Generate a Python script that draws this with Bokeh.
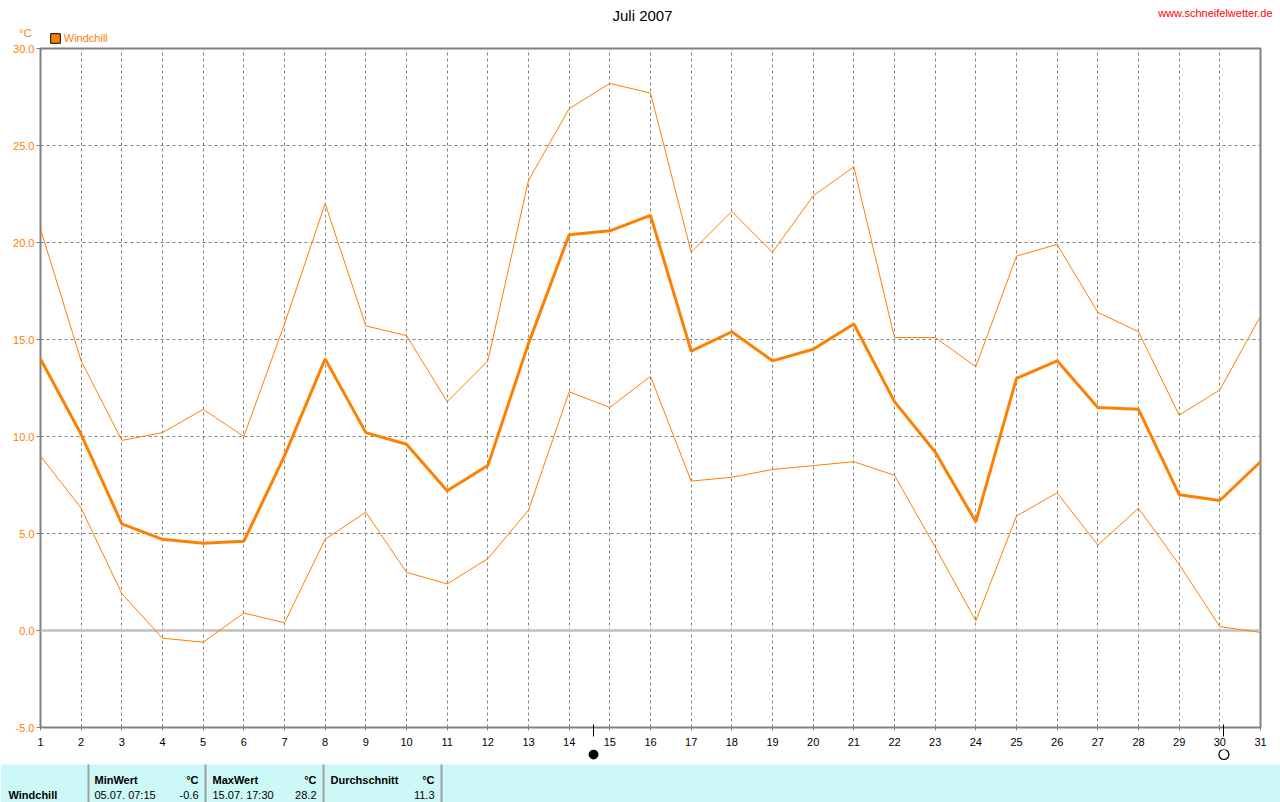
from bokeh.plotting import figure
from bokeh.layouts import column
from bokeh.models import (FixedTicker, PrintfTickFormatter, Span, BoxAnnotation,
                          Legend, LegendItem, Range1d)
from bokeh.core.properties import value
from bokeh.embed import file_html
from bokeh.resources import INLINE

# ---------------- data ----------------
days = list(range(1, 32))
wc_max = [20.7, 13.9, 9.8, 10.2, 11.4, 10.0, 15.8, 22.0, 15.7, 15.2, 11.8,
          13.9, 23.2, 26.9, 28.2, 27.7, 19.5, 21.6, 19.5, 22.4, 23.9,
          15.1, 15.1, 13.6, 19.3, 19.9, 16.4, 15.4, 11.1, 12.4, 16.2]
wc_avg = [14.0, 10.1, 5.5, 4.7, 4.5, 4.6, 9.0, 14.0, 10.2, 9.6, 7.2,
          8.5, 14.8, 20.4, 20.6, 21.4, 14.4, 15.4, 13.9, 14.5, 15.8,
          11.8, 9.2, 5.6, 13.0, 13.9, 11.5, 11.4, 7.0, 6.7, 8.7]
wc_min = [9.0, 6.3, 1.9, -0.4, -0.6, 0.9, 0.4, 4.7, 6.1, 3.0, 2.4,
          3.7, 6.2, 12.3, 11.5, 13.1, 7.7, 7.9, 8.3, 8.5, 8.7,
          8.0, 4.3, 0.5, 5.9, 7.1, 4.4, 6.3, 3.4, 0.2, -0.1]
y_ticks = [-5, 0, 5, 10, 15, 20, 25, 30]
new_moon = [14.6]
full_moon = [30.1]

title_text = "Juli 2007"
site_text = "www.schneifelwetter.de"
series_name = "Windchill"
unit_text = "°C"
stat_heads = ["MinWert", "MaxWert", "Durchschnitt"]
stat_when = ["05.07.  07:15", "15.07.  17:30", ""]
stat_vals = ["-0.6", "28.2", "11.3"]

# ---------------- style / layout ----------------
ORANGE = "#ff8000"
GRAY = "#808080"
FONT = "Liberation Sans"
W = 1280
TOP_H = 44          # strip with title / legend   (page y 0 .. 44)
MAIN_H = 705        # chart                       (page y 44 .. 749)
TAB_H = 53          # moon symbols + table        (page y 749 .. 802)
FL, FR = 40, 1260   # frame left / right, page px
FT, FB = 48, 727    # frame top / bottom, page px

# ---------------- top strip ----------------
top = figure(width=W, height=TOP_H, output_backend="svg", toolbar_location=None,
             x_range=Range1d(0, W), y_range=Range1d(TOP_H, 0),
             x_axis_type=None, y_axis_type=None, min_border=0,
             frame_align=False,
             outline_line_color=None, background_fill_color="white",
             border_fill_color="white")
top.grid.visible = False
top.text(x=[642], y=[15], text=[title_text], text_align="center",
         text_baseline="middle", text_font=value(FONT),
         text_font_size="15px", text_color="black")
top.text(x=[1272], y=[12.5], text=[site_text], text_align="right",
         text_baseline="middle", text_font=value(FONT),
         text_font_size="11px", text_color="#ff0000")
top.text(x=[25], y=[32.5], text=[unit_text], text_align="center",
         text_baseline="middle", text_font=value(FONT),
         text_font_size="11px", text_color=ORANGE)
# swatch renderer for the legend (kept off-canvas, only its style is used)
sq = top.quad(left=[-30], right=[-20], top=[-30], bottom=[-20],
              fill_color=ORANGE, line_color="black", line_width=1)
legend = Legend(items=[LegendItem(label=series_name, renderers=[sq])],
                location=(48.8, 0.2), padding=0, margin=0, spacing=0,
                border_line_color=None, background_fill_alpha=0,
                glyph_width=12, glyph_height=12, label_standoff=3,
                label_height=12, label_text_font=FONT,
                label_text_font_size="11px", label_text_color=ORANGE)
top.add_layout(legend)

# ---------------- main chart ----------------
p = figure(width=W, height=MAIN_H, output_backend="svg", toolbar_location=None,
           x_range=Range1d(1, 31), y_range=Range1d(-5, 30),
           min_border_left=FL, min_border_right=W - FR,
           min_border_top=FT - TOP_H, min_border_bottom=TOP_H + MAIN_H - FB,
           frame_align=False,
           background_fill_color="white", border_fill_color="white",
           outline_line_color=GRAY, outline_line_width=2)

p.xaxis.ticker = FixedTicker(ticks=days, minor_ticks=new_moon + full_moon)
p.yaxis.ticker = FixedTicker(ticks=y_ticks)
p.yaxis.formatter = PrintfTickFormatter(format="%.1f")
for ax in (p.xaxis[0], p.yaxis[0]):
    ax.axis_line_color = None
    ax.major_tick_in = 0
    ax.major_tick_line_color = GRAY
    ax.major_label_text_font = FONT
    ax.major_label_text_font_size = "11px"
p.yaxis.minor_tick_line_color = None
p.xaxis.minor_tick_line_color = "black"
p.xaxis.minor_tick_in = 3
p.xaxis.minor_tick_out = 9
p.xaxis.major_tick_out = 3
p.xaxis.major_label_standoff = 1
p.xaxis.major_label_text_color = "black"
p.yaxis.major_tick_out = 4
p.yaxis.major_label_standoff = 2
p.yaxis.major_label_text_color = ORANGE

p.xgrid.ticker = FixedTicker(ticks=days)
p.ygrid.ticker = FixedTicker(ticks=y_ticks)
for g in (p.xgrid[0], p.ygrid[0]):
    g.grid_line_color = GRAY
    g.grid_line_dash = "3 3"
    g.grid_line_width = 1

p.add_layout(Span(location=0, dimension="width", line_color="#c0c0c0",
                  line_width=2.5, level="underlay"))

p.line(days, wc_max, line_color=ORANGE, line_width=1)
p.line(days, wc_min, line_color=ORANGE, line_width=1)
p.line(days, wc_avg, line_color=ORANGE, line_width=3)

# ---------------- moon symbols + table ----------------
day_per_px = 30 / (FR - FL)
tab = figure(width=W, height=TAB_H, output_backend="svg", toolbar_location=None,
             x_range=Range1d(1 - FL * day_per_px, 1 + (W - FL) * day_per_px),
             y_range=Range1d(TAB_H, 0),
             x_axis_type=None, y_axis_type=None, min_border=0,
             frame_align=False,
             outline_line_color=None, background_fill_color="white",
             border_fill_color="white")
tab.grid.visible = False
tab.extra_x_ranges = {"px": Range1d(0, W)}

Y0 = TOP_H + MAIN_H   # page y of the table strip's top
tab.add_layout(BoxAnnotation(top=764 - Y0, fill_color="#ccf8f8", fill_alpha=1,
                             line_color=None, level="underlay"))

MOON_Y = 754 - Y0
tab.scatter(x=new_moon, y=[MOON_Y] * len(new_moon), marker="circle", size=9,
            fill_color="black", line_color="black", line_width=1)
tab.scatter(x=full_moon, y=[MOON_Y] * len(full_moon), marker="circle", size=10,
            fill_color=None, line_color="black", line_width=1.2)

seps = [88, 205, 323, 441]
tab.segment(x0=seps, y0=[764 - Y0] * 4, x1=seps, y1=[TAB_H] * 4,
            line_color="#a0a0a0", line_width=2, x_range_name="px")

ROW1, ROW2 = 779 - Y0, 794.5 - Y0
col_left = [94, 212, 330]
col_right = [198, 316, 434]

tab.text(x=[8], y=[ROW2], text=[series_name], text_align="left",
         text_baseline="middle", text_font=value(FONT), text_font_size="11px",
         text_font_style="bold", text_color="black", x_range_name="px")
tab.text(x=col_left, y=[ROW1] * 3, text=stat_heads, text_align="left",
         text_baseline="middle", text_font=value(FONT), text_font_size="11px",
         text_font_style="bold", text_color="black", x_range_name="px")
tab.text(x=col_right, y=[ROW1] * 3, text=[unit_text] * 3, text_align="right",
         text_baseline="middle", text_font=value(FONT), text_font_size="11px",
         text_font_style="bold", text_color="black", x_range_name="px")
tab.text(x=col_left[:2], y=[ROW2] * 2, text=stat_when[:2], text_align="left",
         text_baseline="middle", text_font=value(FONT), text_font_size="11px",
         text_color="black", x_range_name="px")
tab.text(x=col_right, y=[ROW2] * 3, text=stat_vals, text_align="right",
         text_baseline="middle", text_font=value(FONT), text_font_size="11px",
         text_color="black", x_range_name="px")

layout = column(top, p, tab, spacing=0)
open("out.html", "w").write(file_html(layout, INLINE))
